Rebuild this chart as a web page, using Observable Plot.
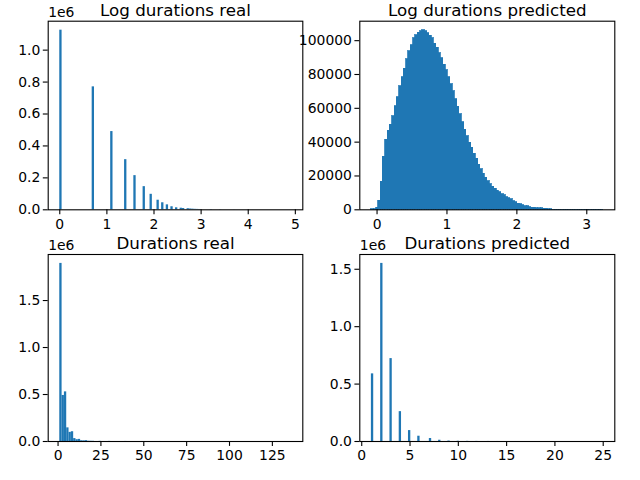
<!DOCTYPE html>
<html><head><meta charset="utf-8">
<script src="https://cdn.jsdelivr.net/npm/d3@7"></script>
<script src="https://cdn.jsdelivr.net/npm/@observablehq/plot@0.6"></script>
<style>
html,body{margin:0;padding:0;background:#fff;}
#fig{position:relative;width:640px;height:480px;overflow:hidden;}
#fig svg{position:absolute;left:0;top:0;}
</style></head><body><div id="fig"></div>
<script>
// ---- data ----
const titles = ["Log durations real", "Log durations predicted", "Durations real", "Durations predicted"];
const nBins = 100;

// real durations (integer values) and their counts
const realDurations = [1, 2, 3, 4, 5, 6, 7, 8, 9, 10, 11, 12, 13, 14, 15, 16, 17, 18, 19, 20, 25, 30, 40, 60, 90, 136];
const realCounts = [1125000, 770000, 490000, 314000, 214000, 145000, 97000, 60000, 44000, 31000, 19000, 12500, 10000, 8000, 7000, 5000, 4000, 3000, 2500, 2000, 1500, 1000, 500, 200, 50, 1];

// predicted log durations: already-binned counts (100 bins over the range)
const predLogRange = [-0.081, 3.235];
const predLogCounts = [
  200, 400, 1200, 5300, 16500, 31300, 41300, 46800, 50200, 55300,
  61200, 66500, 73000, 78500, 83400, 89100, 93800, 97200, 101500, 103100,
  104600, 105600, 106200, 105600, 104400, 102800, 101300, 98100, 95800, 92600,
  89700, 85800, 82600, 78500, 74300, 70200, 65500, 61000, 56600, 51900,
  47400, 43500, 39500, 36600, 33000, 30100, 26500, 24000, 21400, 18900,
  16900, 15200, 13600, 12400, 11400, 10400, 9200, 8500, 7500, 6900,
  6100, 5100, 4500, 3700, 3300, 2800, 2200, 2000, 1600, 1200,
  1200, 800, 800, 800, 700, 600, 300, 200, 150, 100,
  80, 60, 40, 30, 20, 15, 10, 8, 6, 5,
  4, 3, 2, 2, 1, 1, 1, 1, 1, 1
];

// predicted durations (integer values) and their counts
const predDurations = [1, 2, 3, 4, 5, 6, 7, 8, 9, 10, 11, 12, 13, 14, 15, 16, 17, 18, 19, 20, 21, 22, 23, 24, 25];
const predCounts = [589000, 1551000, 722000, 260000, 95000, 46000, 26000, 11000, 4000, 2000, 1200, 700, 400, 200, 100, 60, 40, 20, 10, 5, 3, 2, 1, 1, 1];

// ticks
const ticksLogReal = [0, 1, 2, 3, 4, 5];
const ticksLogPred = [0, 1, 2, 3];
const ticksDurReal = [0, 25, 50, 75, 100, 125];
const ticksDurPred = [0, 5, 10, 15, 20, 25];
const yTicksLogReal = [0, 200000, 400000, 600000, 800000, 1000000];
const yTicksLogPred = [0, 20000, 40000, 60000, 80000, 100000];
const yTicksMillionHalf = [0, 500000, 1000000, 1500000];

// ---- binning like matplotlib hist ----
function histogram(values, weights, lo, hi, n) {
  const w = (hi - lo) / n;
  const bins = d3.range(n).map(i => ({x1: lo + i * w, x2: lo + (i + 1) * w, y: 0}));
  values.forEach((v, j) => {
    let i = Math.floor((v - lo) / w + 1e-9);
    if (i >= n) i = n - 1;
    if (i < 0) i = 0;
    bins[i].y += weights[j];
  });
  return bins;
}
function binsFromCounts(counts, lo, hi) {
  const w = (hi - lo) / counts.length;
  return counts.map((c, i) => ({x1: lo + i * w, x2: lo + (i + 1) * w, y: c}));
}
function pad(lo, hi) { const m = (hi - lo) * 0.05; return [lo - m, hi + m]; }

const logReal = realDurations.map(d => Math.log(d));
const lrLo = d3.min(logReal), lrHi = d3.max(logReal);
const binsLogReal = histogram(logReal, realCounts, lrLo, lrHi, nBins);
const drLo = d3.min(realDurations), drHi = d3.max(realDurations);
const binsDurReal = histogram(realDurations, realCounts, drLo, drHi, nBins);
const binsLogPred = binsFromCounts(predLogCounts, predLogRange[0], predLogRange[1]);
const dpLo = d3.min(predDurations), dpHi = d3.max(predDurations);
const binsDurPred = histogram(predDurations, predCounts, dpLo, dpHi, nBins);

const FONT = "'DejaVu Sans', 'Liberation Sans', sans-serif";
const fmtMillion = d => (d / 1e6).toFixed(1);
const BLUE = "#1f77b4";

function panel(o) {
  const ymax = d3.max(o.bins, b => b.y) * 1.05;
  const barOpts = {x1: "x1", x2: "x2", y: "y", fill: BLUE};
  if (o.solid) { barOpts.stroke = BLUE; barOpts.strokeWidth = 0.8; barOpts.shapeRendering = "crispEdges"; }
  return Plot.plot({
    width: 640, height: 480,
    marginLeft: o.m[0], marginRight: 640 - o.m[1], marginTop: o.m[2], marginBottom: 480 - o.m[3],
    style: {fontFamily: FONT, fontSize: "13.9px", color: "black", background: "transparent", overflow: "visible"},
    x: {domain: o.xDomain, label: null},
    y: {domain: [0, ymax], label: null},
    marks: [
      Plot.rectY(o.bins.filter(b => b.y > 0), barOpts),
      Plot.frame({stroke: "black", strokeWidth: 1.1}),
      Plot.axisX({ticks: o.xTicks, tickSize: 4.9, tickPadding: 4, tickFormat: d => String(d), strokeWidth: 1.1, fontSize: 13.9}),
      Plot.axisY({ticks: o.yTicks, tickSize: 4.9, tickPadding: 3, tickFormat: o.yFormat, strokeWidth: 1.1, fontSize: 13.9}),
      Plot.text([o.title], {text: d => d, frameAnchor: "top", dy: -5.2, lineAnchor: "bottom", fontSize: 16.7}),
      o.offset ? Plot.text([o.offset], {text: d => d, frameAnchor: "top-left", dy: -4.5, lineAnchor: "bottom", textAnchor: "start", fontSize: 13.9}) : null
    ]
  });
}

const fig = document.getElementById("fig");
fig.append(panel({bins: binsLogReal, xDomain: pad(lrLo, lrHi), xTicks: ticksLogReal, yTicks: yTicksLogReal, yFormat: fmtMillion, title: titles[0], offset: "1e6", m: [47.7, 302.3, 20.7, 209.3]}));
fig.append(panel({bins: binsLogPred, solid: true, xDomain: pad(predLogRange[0], predLogRange[1]), xTicks: ticksLogPred, yTicks: yTicksLogPred, yFormat: d => String(d), title: titles[1], offset: null, m: [359.3, 614.3, 20.7, 209.3]}));
fig.append(panel({bins: binsDurReal, xDomain: pad(drLo, drHi), xTicks: ticksDurReal, yTicks: yTicksMillionHalf, yFormat: fmtMillion, title: titles[2], offset: "1e6", m: [47.7, 302.3, 254, 441]}));
fig.append(panel({bins: binsDurPred, xDomain: pad(dpLo, dpHi), xTicks: ticksDurPred, yTicks: yTicksMillionHalf, yFormat: fmtMillion, title: titles[3], offset: "1e6", m: [359.3, 614.3, 254, 441]}));
</script></body></html>
